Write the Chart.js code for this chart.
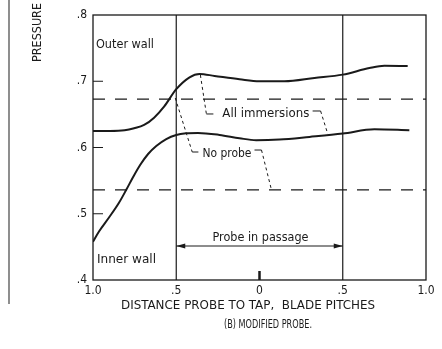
<!DOCTYPE html>
<html><head><meta charset="utf-8">
<style>html,body{margin:0;padding:0;background:#fff;}canvas{display:block}</style>
<script src="https://cdn.jsdelivr.net/npm/chart.js@4.4.1/dist/chart.umd.min.js"></script>
</head><body><canvas id="c" width="442" height="349"></canvas>
<script>
// ---- data ----
const outerX = [-1.0, -0.9, -0.81, -0.753, -0.693, -0.633, -0.572, -0.5, -0.42, -0.36, -0.27, -0.12, 0, 0.15, 0.33, 0.5, 0.66, 0.75, 0.89];
const outerP = [0.625, 0.625, 0.626, 0.629, 0.634, 0.645, 0.662, 0.688, 0.706, 0.711, 0.708, 0.703, 0.700, 0.700, 0.705, 0.710, 0.720, 0.7235, 0.723];
const innerX = [-1.0, -0.964, -0.904, -0.843, -0.801, -0.759, -0.717, -0.669, -0.620, -0.560, -0.500, -0.440, -0.37, -0.24, -0.12, -0.02, 0.12, 0.30, 0.5, 0.69, 0.90];
const innerP = [0.4578, 0.4732, 0.4943, 0.5170, 0.5358, 0.5555, 0.5736, 0.5902, 0.6023, 0.6128, 0.6189, 0.6214, 0.622, 0.619, 0.614, 0.611, 0.612, 0.616, 0.621, 0.6275, 0.626];
const noProbeLevels = [0.673, 0.536];
const passageEdges = [-0.5, 0.5];
const xTicks = [-1, -0.5, 0, 0.5, 1];
const yTicks = [0.4, 0.5, 0.6, 0.7, 0.8];

const FONT = '"DejaVu Sans Condensed", "Liberation Sans Narrow", "DejaVu Sans", sans-serif';
const INK = '#1a1a1a';

// annotation labels (anchors in data coordinates)
const notes = [
  {text: 'Outer wall', x: -0.982, y: 0.7547, w: 58, align: 'left'},
  {text: 'Inner wall', x: -0.976, y: 0.430, w: 59, align: 'left'},
  {text: 'All immersions', x: -0.223, y: 0.6506, w: 87, align: 'left'},
  {text: 'No probe', x: -0.343, y: 0.5902, w: 49, align: 'left'},
  {text: 'Probe in passage', x: 0.006, y: 0.4634, w: 96, align: 'center'}
];
// leader lines: dashed part then solid hook, data coordinates
const leaders = [
  {dash: [[-0.355, 0.7094], [-0.319, 0.6506]], hook: [[-0.319, 0.6506], [-0.277, 0.6506]]},
  {dash: [[0.367, 0.6551], [0.410, 0.6204]], hook: [[0.319, 0.6551], [0.367, 0.6551]]},
  {dash: [[-0.506, 0.6747], [-0.404, 0.5932]], hook: [[-0.404, 0.5932], [-0.367, 0.5932]]},
  {dash: [[0.012, 0.5962], [0.072, 0.536]], hook: [[-0.030, 0.5962], [0.012, 0.5962]]}
];
const arrowLevel = 0.4513;

const pts = (xs, ys) => xs.map((x, i) => ({x, y: ys[i]}));
const fmt = v => { const a = Math.abs(v); if (a === 0) return '0'; const s = a.toFixed(1); return s.startsWith('0') ? s.slice(1) : s; };

const datasets = [
  {data: pts(outerX, outerP), borderColor: INK, borderWidth: 2, pointRadius: 0, cubicInterpolationMode: 'monotone', fill: false},
  {data: pts(innerX, innerP), borderColor: INK, borderWidth: 2, pointRadius: 0, cubicInterpolationMode: 'monotone', fill: false}
];
noProbeLevels.forEach(l => datasets.push({data: [{x: -1, y: l}, {x: 1, y: l}], borderColor: INK, borderWidth: 1.4, borderDash: [12, 10], pointRadius: 0}));
passageEdges.forEach(e => datasets.push({data: [{x: e, y: 0.4}, {x: e, y: 0.8}], borderColor: INK, borderWidth: 1.2, pointRadius: 0}));

function fitText(ctx, text, x, y, w, size, align, font) {
  ctx.font = size + 'px ' + (font || FONT);
  const m = ctx.measureText(text).width;
  ctx.save();
  ctx.translate(x, y);
  ctx.scale(w / m, 1);
  ctx.textAlign = align; ctx.textBaseline = 'middle';
  ctx.fillStyle = INK;
  ctx.fillText(text, 0, 0);
  ctx.restore();
}

const deco = {
  id: 'deco',
  afterDraw(chart) {
    const ctx = chart.ctx, a = chart.chartArea, X = chart.scales.x, Y = chart.scales.y;
    const P = (p) => [X.getPixelForValue(p[0]), Y.getPixelForValue(p[1])];
    ctx.save();
    ctx.strokeStyle = INK; ctx.fillStyle = INK;
    // frame
    ctx.lineWidth = 1.3;
    ctx.strokeRect(a.left, a.top, a.right - a.left, a.bottom - a.top);
    // inner y ticks
    ctx.lineWidth = 1;
    yTicks.slice(1, -1).forEach(v => { const y = Y.getPixelForValue(v); ctx.beginPath(); ctx.moveTo(a.left, y); ctx.lineTo(a.left + 10, y); ctx.stroke(); });
    // centre tick at 0
    ctx.lineWidth = 2.5;
    const x0 = X.getPixelForValue(0);
    ctx.beginPath(); ctx.moveTo(x0, a.bottom - 9); ctx.lineTo(x0, a.bottom); ctx.stroke();
    // leaders
    leaders.forEach(L => {
      ctx.lineWidth = 1; ctx.setLineDash([3, 3]);
      ctx.beginPath(); let p = P(L.dash[0]); ctx.moveTo(p[0], p[1]); p = P(L.dash[1]); ctx.lineTo(p[0], p[1]); ctx.stroke();
      ctx.setLineDash([]);
      ctx.beginPath(); p = P(L.hook[0]); ctx.moveTo(p[0], p[1]); p = P(L.hook[1]); ctx.lineTo(p[0], p[1]); ctx.stroke();
    });
    // arrow
    const ay = Y.getPixelForValue(arrowLevel), ax1 = X.getPixelForValue(passageEdges[0]), ax2 = X.getPixelForValue(passageEdges[1]);
    ctx.lineWidth = 1; ctx.setLineDash([]);
    ctx.beginPath(); ctx.moveTo(ax1, ay); ctx.lineTo(ax2, ay); ctx.stroke();
    ctx.beginPath(); ctx.moveTo(ax1, ay); ctx.lineTo(ax1 + 9, ay - 2.5); ctx.lineTo(ax1 + 9, ay + 2.5); ctx.closePath(); ctx.fill();
    ctx.beginPath(); ctx.moveTo(ax2, ay); ctx.lineTo(ax2 - 9, ay - 2.5); ctx.lineTo(ax2 - 9, ay + 2.5); ctx.closePath(); ctx.fill();
    // notes
    notes.forEach(n => fitText(ctx, n.text, X.getPixelForValue(n.x), Y.getPixelForValue(n.y), n.w, 12, n.align));
    // axis titles & caption
    fitText(ctx, 'DISTANCE PROBE TO TAP,  BLADE PITCHES', 248, 306, 254, 12, 'center');
    fitText(ctx, '(B) MODIFIED PROBE.', 268, 325, 88, 12, 'center');
    ctx.save(); ctx.translate(38, 62); ctx.rotate(-Math.PI / 2);
    fitText(ctx, 'PRESSURE', 0, 0, 59, 13, 'left');
    ctx.restore();
    // figure border line at left
    ctx.strokeStyle = '#444'; ctx.lineWidth = 1.2;
    ctx.beginPath(); ctx.moveTo(9, 0); ctx.lineTo(9, 304); ctx.stroke();
    ctx.restore();
  }
};

new Chart(document.getElementById('c'), {
  type: 'line',
  data: {datasets},
  options: {
    responsive: false, animation: false, devicePixelRatio: 1,
    layout: {padding: {top: 15, right: 16, left: 0, bottom: 0}},
    plugins: {legend: {display: false}, tooltip: {enabled: false}},
    scales: {
      x: {type: 'linear', min: -1, max: 1,
        afterBuildTicks: s => { s.ticks = xTicks.map(v => ({value: v})); },
        afterFit: s => { s.height = 69; },
        grid: {display: false, drawTicks: false}, border: {display: false},
        ticks: {callback: fmt, color: INK, font: {size: 12, family: FONT}, padding: 4, maxRotation: 0, autoSkip: false}},
      y: {type: 'linear', min: 0.4, max: 0.8,
        afterBuildTicks: s => { s.ticks = yTicks.map(v => ({value: v})); },
        afterFit: s => { s.width = 93; },
        grid: {display: false, drawTicks: false}, border: {display: false},
        ticks: {callback: fmt, color: INK, font: {size: 12, family: FONT}, padding: 6}}
    }
  },
  plugins: [deco]
});
</script></body></html>
